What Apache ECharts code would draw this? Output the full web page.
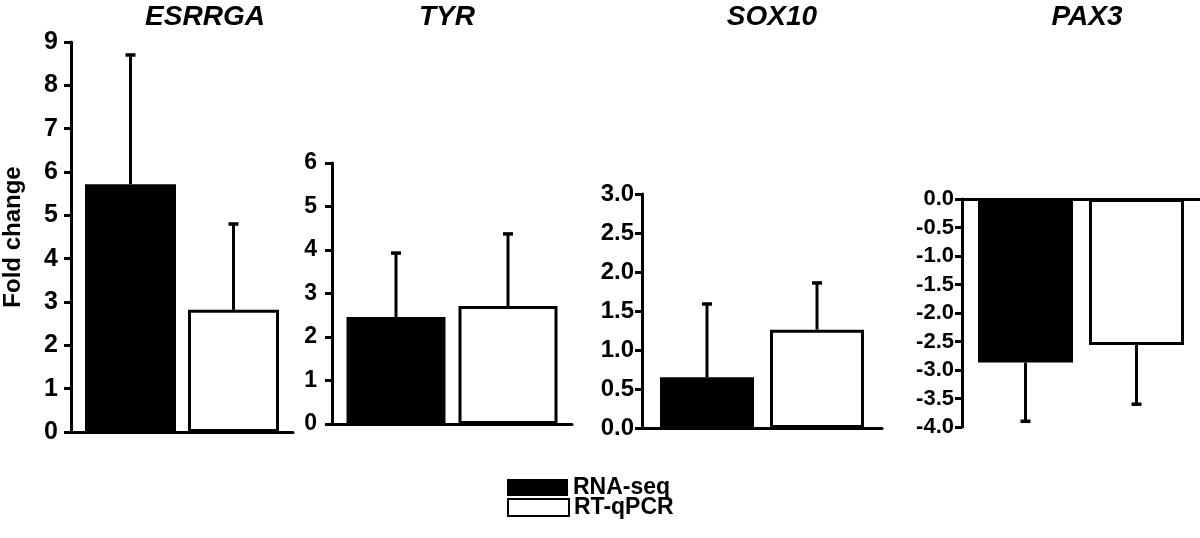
<!DOCTYPE html>
<html>
<head>
<meta charset="utf-8">
<script src="https://cdn.jsdelivr.net/npm/echarts@6/dist/echarts.min.js"></script>
<style>
  html, body { margin: 0; padding: 0; background: #fff; }
  #chart { width: 1200px; height: 538px; }
</style>
</head>
<body>
<div id="chart"></div>
<script>
// 数据
const genes = ["ESRRGA", "TYR", "SOX10", "PAX3"];
const rnaSeq = [5.72, 2.46, 0.65, -2.87];
const rnaSeqErr = [2.98, 1.47, 0.94, 1.03];
const rtqPcr = [2.82, 2.71, 1.26, -2.56];
const rtqPcrErr = [1.98, 1.66, 0.6, 1.04];
const yMin = [0, 0, 0, -4];
const yMax = [9, 6, 3, 0];
const yStep = [1, 1, 0.5, 0.5];

// 布局
const grids = [
  { left: 64, top: 42, width: 229, height: 390 },
  { left: 332, top: 163, width: 240, height: 261 },
  { left: 642, top: 194, width: 240, height: 234 },
  { left: 962, top: 199, width: 238, height: 228 },
];
const barW = [91, 99, 94, 95];
const gapPx = [12, 13, 16, 16];
const labelFont = [25, 23, 24, 22];
const labelMargin = [13, 15, 8, 8];
const titleX = [205, 447, 772, 1087];
const FONT = "'Liberation Sans', Arial, sans-serif";

var myChart = echarts.init(document.getElementById("chart"));

function errSeries(i, vals, errs, side) {
  return {
    type: "custom",
    name: "err",
    xAxisIndex: i,
    yAxisIndex: i,
    silent: true,
    z: 5,
    encode: { x: 0, y: 1 },
    data: [[0, vals[i], errs[i]]],
    renderItem: function (params, api) {
      var v = api.value(1);
      var e = api.value(2);
      var dir = v >= 0 ? 1 : -1;
      var base = api.coord([0, v]);
      var tip = api.coord([0, v + dir * e]);
      var half = (barW[i] * 2 + gapPx[i]) / 2;
      var x = base[0] + side * (half - barW[i] / 2);
      return {
        type: "group",
        children: [
          {
            type: "line",
            shape: { x1: x, y1: base[1], x2: x, y2: tip[1] },
            style: { stroke: "#000", lineWidth: 3 },
          },
          {
            type: "line",
            shape: { x1: x - 5, y1: tip[1], x2: x + 5, y2: tip[1] },
            style: { stroke: "#000", lineWidth: 3.5 },
          },
        ],
      };
    },
  };
}

var xAxes = [], yAxes = [], series = [], graphics = [];
genes.forEach(function (g, i) {
  xAxes.push({
    gridIndex: i,
    type: "category",
    data: [g],
    axisLabel: { show: false },
    axisTick: { show: false },
    axisLine: { lineStyle: { color: "#000", width: 3 } },
  });
  yAxes.push({
    gridIndex: i,
    type: "value",
    min: yMin[i],
    max: yMax[i],
    interval: yStep[i],
    name: i === 0 ? "Fold change" : "",
    nameLocation: "middle",
    nameGap: 46,
    nameTextStyle: { fontFamily: FONT, fontWeight: "bold", fontSize: 24, color: "#000" },
    splitLine: { show: false },
    axisLine: { show: true, onZero: false, lineStyle: { color: "#000", width: 3 } },
    axisTick: { show: true, length: 7, lineStyle: { color: "#000", width: 3 } },
    axisLabel: {
      margin: labelMargin[i],
      fontFamily: FONT,
      fontWeight: "bold",
      fontSize: labelFont[i],
      color: "#000",
      formatter: function (v) {
        return yStep[i] < 1 ? v.toFixed(1) : String(v);
      },
    },
  });
  series.push({
    name: "RNA-seq",
    type: "bar",
    xAxisIndex: i,
    yAxisIndex: i,
    barWidth: barW[i],
    barGap: (gapPx[i] / barW[i]) * 100 + "%",
    itemStyle: { color: "#000" },
    data: [rnaSeq[i]],
  });
  series.push({
    name: "RT-qPCR",
    type: "bar",
    xAxisIndex: i,
    yAxisIndex: i,
    barWidth: barW[i],
    barGap: (gapPx[i] / barW[i]) * 100 + "%",
    itemStyle: { color: "#fff", borderColor: "#000", borderWidth: 3 },
    data: [rtqPcr[i]],
  });
  series.push(errSeries(i, rnaSeq, rnaSeqErr, -1));
  series.push(errSeries(i, rtqPcr, rtqPcrErr, 1));
  graphics.push({
    type: "text",
    x: titleX[i],
    y: 17,
    style: {
      text: g,
      fontFamily: FONT,
      fontWeight: "bold",
      fontStyle: "italic",
      fontSize: 28,
      fill: "#000",
      align: "center",
      verticalAlign: "middle",
    },
  });
});

var legendText = {
  fontFamily: FONT,
  fontWeight: "bold",
  fontSize: 23,
  color: "#000",
};

var option = {
  animation: false,
  backgroundColor: "#fff",
  grid: grids,
  xAxis: xAxes,
  yAxis: yAxes,
  legend: [
    {
      left: 502,
      top: 471,
      itemWidth: 61,
      itemHeight: 17,
      icon: "rect",
      selectedMode: false,
      textStyle: legendText,
      data: [{ name: "RNA-seq" }],
    },
    {
      left: 502,
      top: 491,
      itemWidth: 61,
      itemHeight: 17,
      icon: "rect",
      selectedMode: false,
      textStyle: legendText,
      data: [{ name: "RT-qPCR", itemStyle: { color: "#fff", borderColor: "#000", borderWidth: 2 } }],
    },
  ],
  graphic: graphics,
  series: series,
};

myChart.setOption(option);
</script>
</body>
</html>
